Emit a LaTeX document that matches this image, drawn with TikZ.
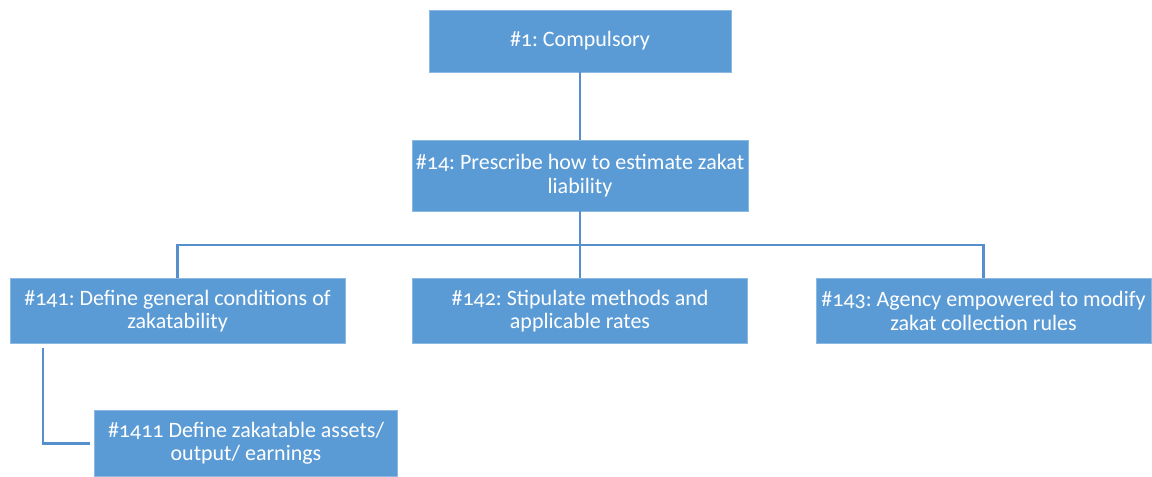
\documentclass[tikz,border=0pt]{standalone}
\usepackage{fontspec}
\setmainfont[Numbers=OldStyle]{Carlito}
\usetikzlibrary{positioning}
\definecolor{boxblue}{HTML}{5B9BD5}
\definecolor{lineblue}{HTML}{5590CC}
\frenchspacing

\begin{document}
\begin{tikzpicture}[x=0.75pt, y=-0.75pt,
  box/.style={rectangle, fill=boxblue, draw=boxblue!70!white, line width=0.5pt,
    text=white, align=center, font=\fontsize{16.5}{17.5}\selectfont, inner sep=0pt},
  link/.style={draw=lineblue, line width=1.6pt}]
\useasboundingbox (0,0) rectangle (1152,477);
\node[box, minimum width=226.5pt, minimum height=46.5pt]  (B1)    at (580,41)    {\#1: Compulsory};
\node[box, minimum width=252pt,   minimum height=53.25pt] (B14)   at (580,175.5) {\#14: Prescribe how to estimate zakat\\liability};
\node[box, minimum width=251.25pt, minimum height=48.75pt] (B141) at (177.5,311) {\#141: Define general conditions of\\zakatability};
\node[box, minimum width=251.25pt, minimum height=48.75pt] (B142) at (580,311)   {\#142: Stipulate methods and\\applicable rates};
\node[box, minimum width=251.25pt, minimum height=48.75pt] (B143) at (983.5,311) {\#143: Agency empowered to modify\\zakat collection rules};
\node[box, minimum width=227.25pt, minimum height=49.5pt]  (B1411) at (246,443.5) {\#1411 Define zakatable assets/\\output/ earnings};
\coordinate (bus) at (580,245);
\draw[link] (B1.south) -- (B14.north);
\draw[link] (B14.south) -- (B142.north);
\draw[link] (B141.north) |- (bus) -| (B143.north);
\draw[link] ([xshift=24.75pt, yshift=-3pt]B141.south west) |- ([xshift=-3pt]B1411.west);
\end{tikzpicture}
\end{document}
